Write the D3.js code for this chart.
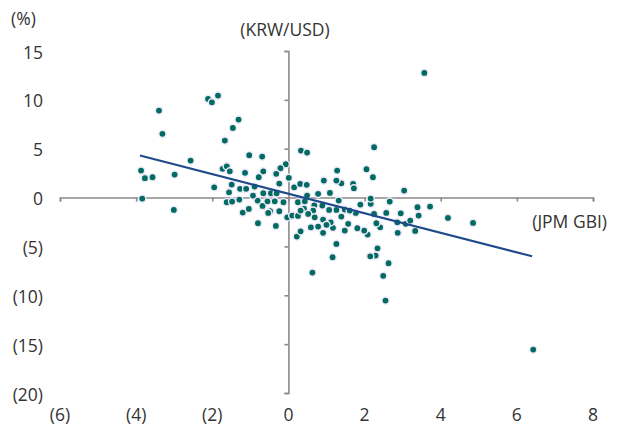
<!DOCTYPE html>
<html>
<head>
<meta charset="utf-8">
<script src="https://cdn.jsdelivr.net/npm/d3@7/dist/d3.min.js"></script>
<style>
  html, body { margin: 0; padding: 0; background: #ffffff; }
  svg { display: block; }
  text { font-family: "Open Sans", "Noto Sans", sans-serif; fill: #333333; }
</style>
</head>
<body>
<div id="chart"></div>
<script>
// Bond return (JPM GBI, x) vs. currency move (KRW/USD, y), both in %
const gbiReturn = [
  -3.40, -3.31, -2.11, -2.01, -1.85, -1.31, -1.46, -1.67, -3.87, -3.77,
  -3.57, -2.99, -2.57, -3.84, -3.01, -1.95, -1.73, -1.62, -1.54, -1.03,
  -0.69, -0.07, -0.21, -0.32, -0.66, -0.78, -1.14, -1.49, -1.27, -1.11,
  -0.89, -1.56, -1.62, -1.48, -1.29, -0.81, -0.66, -0.46, -0.31, -0.24,
   0.01,  0.15,  0.31,  0.48,  0.33,  0.49, -1.20, -1.04, -0.68, -0.48,
  -0.24, -0.13, -0.36, -0.03,  0.10,  0.25,  0.41,  0.68,  0.78,  0.65,
  -0.80, -0.33, -0.53,  0.25,  0.22,  0.32,  0.59,  0.78,  0.63,  6.43,
   2.55,  2.49,  2.63,  2.34,  2.29,  2.15,  1.16,  1.26,  4.19,  4.85,
   3.72,  3.39,  3.42,  3.33,  2.87,  3.08,  3.20,  2.95,  2.86,  2.66,
   2.57,  2.41,  2.31,  2.25,  2.16,  2.08,  1.99,  1.81,  1.89,  1.77,
   1.57,  1.48,  1.39,  1.26,  1.04,  1.17,  0.91,  1.07,  3.57,  2.25,
   2.05,  2.22,  3.04,  2.16,  1.70,  1.72,  1.39,  1.28,  1.26,  0.93,
   1.09,  1.32,  0.49, -0.55,  0.43,  0.89,  1.48,  0.32,  0.52,  0.69,
   0.91,  1.11,  1.00,  1.61, -0.93
];
const krwChange = [
   8.90,  6.52, 10.10,  9.75, 10.44,  7.98,  7.13,  5.83,  2.76,  1.98,
   2.08,  2.35,  3.79, -0.10, -1.26,  1.05,  2.94,  3.20,  2.69,  4.33,
   4.20,  3.41,  3.00,  2.43,  2.69,  2.08,  2.53,  1.33,  0.89,  0.89,
   1.13,  0.54, -0.48, -0.41, -0.20, -0.31,  0.44,  0.44,  0.44,  1.43,
   2.02,  1.05,  1.40,  1.30,  4.81,  4.61, -1.54, -1.16, -0.85, -1.40,
  -1.40, -0.48, -0.38, -2.02, -1.84, -0.48, -1.13, -0.79,  0.38, -1.33,
  -2.63, -2.90, -1.57, -1.88, -3.99, -3.45, -3.04, -2.97, -7.68, -15.56,
  -10.54, -8.01, -6.72, -5.19, -5.94, -6.01, -6.11, -4.74, -2.08, -2.59,
  -0.92, -0.99, -1.84, -3.41, -3.61, -2.69, -2.35, -1.61, -2.53, -0.41,
  -1.57, -3.04, -2.63, -1.67, -0.64, -3.79, -3.38, -3.14, -0.72, -1.57,
  -2.69, -3.38, -1.94, -1.26, -2.69, -3.10, -3.61, -1.26, 12.76,  5.15,
   2.90,  2.08,  0.72, -0.10,  1.40,  0.95,  1.46,  2.76,  1.74,  1.74,
   0.48, -0.31,  0.20, -0.38, -0.38, -0.82, -1.23, -1.33, -1.67, -2.02,
  -2.25, -2.53, -2.79, -1.33,  0.20
];

// Fitted trend line end points
const trendX = [-3.9, 6.4];
const trendY = [4.3, -6.0];

// Axis ticks and their labels
const xTicks = [-6, -4, -2, 0, 2, 4, 6, 8];
const xTickLabels = ["(6)", "(4)", "(2)", "0", "2", "4", "6", "8"];
const yTicks = [15, 10, 5, 0, -5, -10, -15, -20];
const yTickLabels = ["15", "10", "5", "0", "(5)", "(10)", "(15)", "(20)"];

const W = 619, H = 427;
const svg = d3.select("#chart").append("svg")
  .attr("width", W).attr("height", H);

const x = d3.scaleLinear().domain([-6, 8]).range([60, 593]);
const y = d3.scaleLinear().domain([-20, 15]).range([393, 51]);

const axisColor = "#8a8a8a";
const fontSize = 17.5;

// Horizontal axis through y = 0, ticks pointing down
const xAxis = svg.append("g")
  .attr("transform", `translate(0,${y(0)})`)
  .call(d3.axisBottom(x).tickValues(xTicks).tickSize(4).tickSizeOuter(4).tickFormat(""));
xAxis.select(".domain").attr("stroke", axisColor).attr("stroke-width", 1.6);
xAxis.selectAll(".tick line").attr("stroke", axisColor).attr("stroke-width", 1.6);

// Vertical axis through x = 0, ticks pointing left
const yAxis = svg.append("g")
  .attr("transform", `translate(${x(0)},0)`)
  .call(d3.axisLeft(y).tickValues(yTicks).tickSize(4).tickSizeOuter(4).tickFormat(""));
yAxis.select(".domain").attr("stroke", axisColor).attr("stroke-width", 1.6);
yAxis.selectAll(".tick line").attr("stroke", axisColor).attr("stroke-width", 1.6);

// Tick labels along the bottom and left edges
svg.append("g").selectAll("text")
  .data(xTicks)
  .join("text")
  .attr("x", d => x(d))
  .attr("y", 421)
  .attr("text-anchor", "middle")
  .attr("font-size", fontSize)
  .text((d, i) => xTickLabels[i]);

svg.append("g").selectAll("text")
  .data(yTicks)
  .join("text")
  .attr("x", 43)
  .attr("y", d => y(d) + 7.5)
  .attr("text-anchor", "end")
  .attr("font-size", fontSize)
  .text((d, i) => yTickLabels[i]);

// Unit and axis titles
svg.append("text").attr("x", 11).attr("y", 25).attr("font-size", fontSize).text("(%)");
svg.append("text").attr("x", 285).attr("y", 36).attr("text-anchor", "middle")
  .attr("font-size", fontSize).text("(KRW/USD)");
svg.append("text").attr("x", 607).attr("y", 228).attr("text-anchor", "end")
  .attr("font-size", fontSize).text("(JPM GBI)");

// Scatter points
const pts = gbiReturn.map((v, i) => [v, krwChange[i]]);
svg.append("g").selectAll("circle")
  .data(pts)
  .join("circle")
  .attr("cx", d => x(d[0]))
  .attr("cy", d => y(d[1]))
  .attr("r", 3.6)
  .attr("fill", "#006b60")
  .attr("stroke", "#efe9fb")
  .attr("stroke-width", 1.4);

// Trend line
svg.append("path")
  .datum(trendX.map((v, i) => [v, trendY[i]]))
  .attr("d", d3.line().x(d => x(d[0])).y(d => y(d[1])))
  .attr("fill", "none")
  .attr("stroke", "#1f4a8a")
  .attr("stroke-width", 2.2);
</script>
</body>
</html>
